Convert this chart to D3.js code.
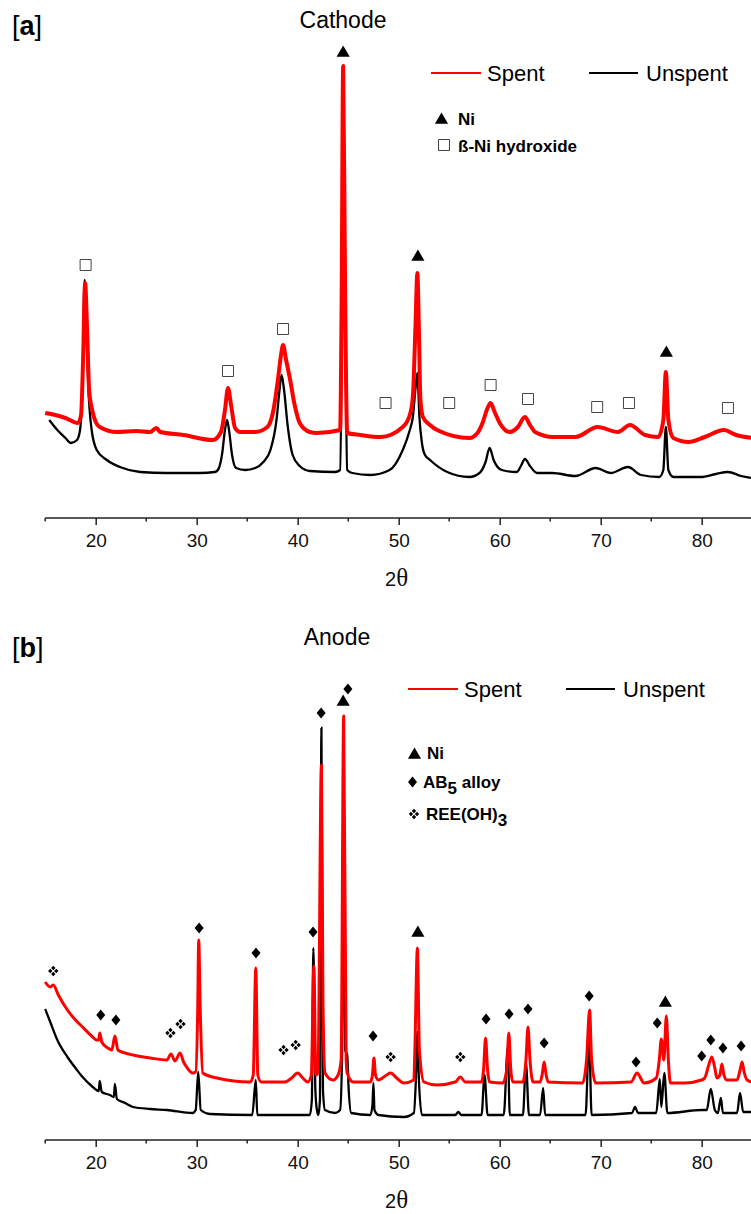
<!DOCTYPE html>
<html>
<head>
<meta charset="utf-8">
<script src="https://cdn.jsdelivr.net/npm/d3@7"></script>
<style>
  body { margin: 0; background: #fff; }
  text { font-family: "Liberation Sans", Arial, sans-serif; }
</style>
</head>
<body>
<svg width="751" height="1214"></svg>
<script>
// 2theta (deg), intensity (a.u.)
var cathodeSpent = [[15.0,104],[16.0,102],[17.0,99],[18.25,94],[18.55,102],[18.75,157],[18.95,234],[19.15,187],[19.35,127],[19.65,107],[20.0,95],[20.4,90],[22.1,85],[24.0,86],[25.4,85],[26.0,89],[26.4,85],[28.7,82],[31.6,77],[32.4,85],[32.8,107],[33.1,129],[33.4,112],[33.8,89],[34.3,85],[35.8,85],[37.0,90],[37.6,107],[38.0,134],[38.35,162],[38.55,172],[38.85,157],[39.2,140],[39.7,112],[40.2,94],[41.2,85],[41.9,84],[44.2,87],[44.35,217],[44.5,451],[44.7,217],[44.9,84],[46.2,82],[48.2,80],[50.4,90],[51.1,102],[51.4,120],[51.65,187],[51.85,244],[52.0,187],[52.15,117],[52.4,100],[53.1,92],[53.8,87],[57.0,79],[57.8,84],[58.3,94],[58.8,109],[59.1,114],[59.5,105],[60.0,94],[61.0,85],[61.8,90],[62.5,100],[63.0,92],[63.5,85],[65.3,80],[67.5,80],[69.7,90],[71.7,85],[72.9,92],[74.4,82],[75.7,80],[76.2,97],[76.45,145],[76.7,97],[77.2,79],[78.7,75],[80.3,80],[82.2,87],[83.4,82],[85.0,79]];

var cathodeUnspent = [[15.4,97],[16.2,87],[17.0,79],[17.55,74],[18.15,77],[18.45,87],[18.7,134],[18.9,237],[19.05,200],[19.25,134],[19.6,87],[20.1,67],[21.1,57],[22.4,50],[24.4,45],[27.0,44],[30.3,44],[31.8,45],[32.1,47],[32.5,62],[32.8,87],[33.0,97],[33.2,87],[33.5,62],[33.9,49],[34.8,47],[35.8,49],[36.6,55],[37.3,67],[37.9,97],[38.2,127],[38.4,142],[38.65,127],[39.0,92],[39.5,62],[40.2,51],[41.2,46],[43.7,45],[44.2,47],[44.4,217],[44.55,410],[44.7,217],[44.9,47],[45.4,44],[47.2,42],[49.1,47],[50.4,67],[51.1,87],[51.4,100],[51.65,127],[51.85,144],[52.05,100],[52.3,74],[52.6,62],[53.1,57],[54.8,45],[57.0,40],[58.0,44],[58.6,55],[59.0,69],[59.4,57],[60.2,47],[61.7,45],[62.1,51],[62.5,58],[63.0,51],[63.7,44],[65.2,44],[67.5,41],[69.5,49],[71.0,44],[72.7,50],[74.0,42],[75.8,40],[76.2,47],[76.45,90],[76.7,47],[77.2,40],[79.9,40],[81.4,43],[82.6,45],[83.9,41],[85.0,39]];

var anodeSpent = [[15.0,157],[15.5,152],[15.8,154],[16.3,144],[17.2,129],[18.0,119],[18.7,112],[19.6,103],[20.1,99],[20.3,99],[20.4,106],[20.6,97],[21.2,91],[21.6,89],[21.9,103],[22.2,89],[22.9,86],[23.7,84],[25.4,81],[27.05,79],[27.45,85],[27.85,78],[28.35,86],[28.7,77],[29.0,72],[29.6,66],[29.9,67],[30.1,129],[30.2,199],[30.35,129],[30.6,66],[32.0,61],[35.3,57],[35.6,64],[35.85,171],[36.05,64],[36.4,57],[38.7,57],[39.4,61],[40.0,66],[40.5,61],[41.0,57],[41.35,64],[41.6,173],[41.8,64],[42.0,66],[42.35,374],[42.5,139],[42.7,66],[43.5,59],[44.0,64],[44.3,79],[44.55,423],[44.8,79],[44.9,66],[45.5,57],[47.2,57],[47.4,64],[47.55,81],[47.7,64],[48.0,59],[48.8,64],[49.2,66],[49.8,61],[50.5,56],[51.5,59],[51.6,89],[51.85,191],[52.05,89],[52.5,57],[53.8,54],[55.6,57],[56.1,62],[56.6,57],[58.2,57],[58.4,69],[58.6,101],[58.8,69],[59.0,57],[60.3,56],[60.7,69],[60.9,106],[61.1,69],[61.3,57],[62.3,57],[62.6,79],[62.8,112],[63.0,79],[63.3,57],[64.0,57],[64.2,64],[64.4,77],[64.6,64],[64.8,57],[68.2,56],[68.6,79],[68.9,129],[69.1,79],[69.5,56],[73.0,57],[73.6,66],[74.3,56],[75.5,61],[75.8,79],[76.0,100],[76.25,79],[76.5,123],[76.7,79],[76.9,56],[78.3,56],[80.0,59],[80.3,61],[80.7,74],[81.0,82],[81.3,71],[81.5,61],[81.8,64],[82.0,75],[82.2,64],[82.5,59],[83.5,59],[83.8,69],[84.0,77],[84.2,67],[84.5,59],[85.0,57]];

var anodeUnspent = [[15.0,130],[15.5,117],[16.2,99],[17.2,82],[18.0,71],[18.7,62],[19.6,53],[20.3,48],[20.4,58],[20.6,47],[21.4,44],[21.8,42],[21.9,55],[22.1,40],[22.9,36],[23.7,32],[25.4,30],[27.05,29],[29.6,26],[29.9,29],[30.15,67],[30.4,29],[31.3,25],[35.5,24],[35.85,59],[36.0,24],[40.2,24],[41.2,24],[41.4,39],[41.55,191],[41.75,49],[41.9,29],[42.05,24],[42.2,39],[42.35,411],[42.5,49],[42.7,29],[43.7,26],[44.2,29],[44.4,89],[44.55,339],[44.7,89],[44.9,84],[45.05,49],[45.3,26],[47.2,24],[47.4,34],[47.5,56],[47.6,29],[48.0,24],[50.5,22],[51.5,26],[51.7,59],[51.85,107],[52.0,59],[52.3,24],[55.6,24],[55.9,27],[56.2,24],[58.2,24],[58.5,64],[58.8,24],[60.4,24],[60.8,92],[61.0,24],[62.3,24],[62.6,76],[62.9,24],[64.0,24],[64.3,51],[64.5,24],[68.5,24],[68.85,103],[69.1,24],[73.1,26],[73.4,32],[73.7,26],[75.5,26],[75.85,60],[76.0,32],[76.3,66],[76.6,26],[80.0,29],[80.5,29],[80.9,50],[81.3,29],[81.6,26],[81.9,41],[82.1,26],[83.5,26],[83.8,46],[84.1,27],[85.0,27]];

// phase markers: [2theta, intensity]
var cathodeNi = [[44.5,464],[51.9,260],[76.5,164]];
var cathodeHydroxide = [[19.0,252],[33.1,146],[38.55,188],[48.7,114],[55.0,114],[59.1,132],[62.8,118],[69.65,110],[72.8,114],[82.6,109]];
var anodeNi = [[44.5,437],[51.9,206],[76.4,136]];
var anodeAlloy = [[20.5,124],[22.0,119],[30.24,211],[35.87,186],[41.52,207],[42.32,426],[44.97,450],[47.46,103],[58.65,120],[60.93,125],[62.8,130],[64.4,96],[68.86,143],[73.5,77],[75.6,116],[80.0,83],[80.9,99],[82.1,91],[83.9,93]];
var anodeREE = [[15.8,168],[27.4,106],[28.4,115],[38.6,89],[39.8,94],[49.2,82],[56.1,82]];

var xMajor = [20, 30, 40, 50, 60, 70, 80];
var xMinor = [15, 25, 35, 45, 55, 65, 75, 85];

var svg = d3.select("svg");

var x = d3.scaleLinear().domain([15, 85]).range([45.2, 752.2]);

var triPath = d3.symbol().type(d3.symbolTriangle).size(75)();
var diaPath = "M0,-5.5L4.5,0L0,5.5L-4.5,0Z";
var sqPath = "M-5.5,-5.5H5.5V5.5H-5.5Z";
var reePath = [[0,-3],[3,0],[0,3],[-3,0]].map(function(c) {
    return "M" + c[0] + "," + (c[1] - 2.2) + "L" + (c[0] + 2.2) + "," + c[1] +
        "L" + c[0] + "," + (c[1] + 2.2) + "L" + (c[0] - 2.2) + "," + c[1] + "Z";
}).join("");

function drawPanel(p) {
    var y = d3.scaleLinear().domain([0, 500]).range([p.base, p.base - 500]);
    var g = svg.append("g");

    var line = d3.line()
        .x(function(d) { return x(d[0]); })
        .y(function(d) { return y(d[1]); })
        .curve(d3.curveMonotoneX);

    g.append("path").datum(p.unspent)
        .attr("fill", "none").attr("stroke", "#000").attr("stroke-width", 2.3)
        .attr("d", line);
    g.append("path").datum(p.spent)
        .attr("fill", "none").attr("stroke", "#ff0000").attr("stroke-width", p.redWidth)
        .attr("stroke-linejoin", "round")
        .attr("d", line);

    // x axis: majors with labels, minors without
    var ax = g.append("g").attr("transform", "translate(0," + (p.base + 1) + ")");
    ax.call(d3.axisBottom(x).tickValues(xMajor).tickSize(7).tickPadding(9).tickFormat(d3.format("d")));
    ax.call(function(a) {
        a.select(".domain").attr("stroke", "#222").attr("stroke-width", 1.5).attr("d", "M45.2,0H751");
        a.selectAll(".tick line").attr("stroke", "#222").attr("stroke-width", 1.5);
        a.selectAll(".tick text").attr("font-size", 19).attr("fill", "#111")
            .attr("font-family", "Liberation Sans, Arial, sans-serif");
    });
    ax.selectAll(".minor").data(xMinor).enter().append("line")
        .attr("x1", function(d) { return x(d); }).attr("x2", function(d) { return x(d); })
        .attr("y1", 0).attr("y2", 3.5).attr("stroke", "#222").attr("stroke-width", 1.5);

    var xl = g.append("text").attr("x", 385).attr("y", p.base + 69).attr("font-size", 20).attr("fill", "#111");
    xl.append("tspan").text("2");
    xl.append("tspan").attr("font-family", "Liberation Serif, serif").attr("font-size", 25).text("θ");

    // panel letter and title
    var lt = g.append("text").attr("x", 12).attr("y", p.base - 482).attr("font-size", 27);
    lt.append("tspan").text("[");
    lt.append("tspan").attr("font-weight", "bold").text(p.letter);
    lt.append("tspan").text("]");
    g.append("text").attr("x", p.titleX).attr("y", p.titleY).attr("text-anchor", "middle")
        .attr("font-size", 23).text(p.title);

    // line legend
    var lg = g.append("g").attr("transform", "translate(" + p.legX + "," + p.legY + ")");
    lg.append("line").attr("x1", 0).attr("x2", 50).attr("y1", -8).attr("y2", -8).attr("stroke", "#ff0000").attr("stroke-width", 2);
    lg.append("text").attr("x", 56).attr("font-size", 22).text("Spent");
    lg.append("line").attr("x1", 158).attr("x2", 207).attr("y1", -8).attr("y2", -8).attr("stroke", "#000").attr("stroke-width", 2);
    lg.append("text").attr("x", 215).attr("font-size", 22).text("Unspent");

    // markers
    p.marks.forEach(function(m) {
        g.selectAll(null).data(m.data).enter().append("path")
            .attr("transform", function(d) { return "translate(" + x(d[0]) + "," + y(d[1]) + ")"; })
            .attr("d", m.shape)
            .attr("fill", m.fill).attr("stroke", m.stroke).attr("stroke-width", 1);
    });

    // phase legend
    p.keys.forEach(function(k) {
        g.append("path").attr("transform", "translate(" + k.sx + "," + k.sy + ")")
            .attr("d", k.shape).attr("fill", k.fill).attr("stroke", k.stroke).attr("stroke-width", 1);
        var t = g.append("text").attr("x", k.tx).attr("y", k.ty)
            .attr("font-size", 17).attr("font-weight", "bold");
        k.parts.forEach(function(s, i) {
            var ts = t.append("tspan").text(s);
            if (i % 2 == 1) ts.attr("dy", 6);
            else if (i > 0) ts.attr("dy", -6);
        });
    });
}

drawPanel({
    base: 517, letter: "a", title: "Cathode", titleX: 343, titleY: 28,
    legX: 431, legY: 81, redWidth: 4,
    spent: cathodeSpent, unspent: cathodeUnspent,
    marks: [
        { data: cathodeHydroxide, shape: sqPath, fill: "none", stroke: "#444" },
        { data: cathodeNi, shape: triPath, fill: "#000", stroke: "none" }
    ],
    keys: [
        { shape: triPath, fill: "#000", stroke: "none", sx: 441.5, sy: 120, tx: 458, ty: 125, parts: ["Ni"] },
        { shape: sqPath, fill: "none", stroke: "#444", sx: 444, sy: 145, tx: 458, ty: 152, parts: ["ß-Ni hydroxide"] }
    ]
});

drawPanel({
    base: 1139, letter: "b", title: "Anode", titleX: 337, titleY: 645,
    legX: 408, legY: 697, redWidth: 3,
    spent: anodeSpent, unspent: anodeUnspent,
    marks: [
        { data: anodeREE, shape: reePath, fill: "#000", stroke: "none" },
        { data: anodeAlloy, shape: diaPath, fill: "#000", stroke: "none" },
        { data: anodeNi, shape: triPath, fill: "#000", stroke: "none" }
    ],
    keys: [
        { shape: triPath, fill: "#000", stroke: "none", sx: 414.5, sy: 755, tx: 427, ty: 759, parts: ["Ni"] },
        { shape: diaPath, fill: "#000", stroke: "none", sx: 412.5, sy: 782, tx: 423, ty: 788, parts: ["AB", "5", " alloy"] },
        { shape: reePath, fill: "#000", stroke: "none", sx: 414, sy: 814, tx: 426, ty: 820, parts: ["REE(OH)", "3"] }
    ]
});
</script>
</body>
</html>
